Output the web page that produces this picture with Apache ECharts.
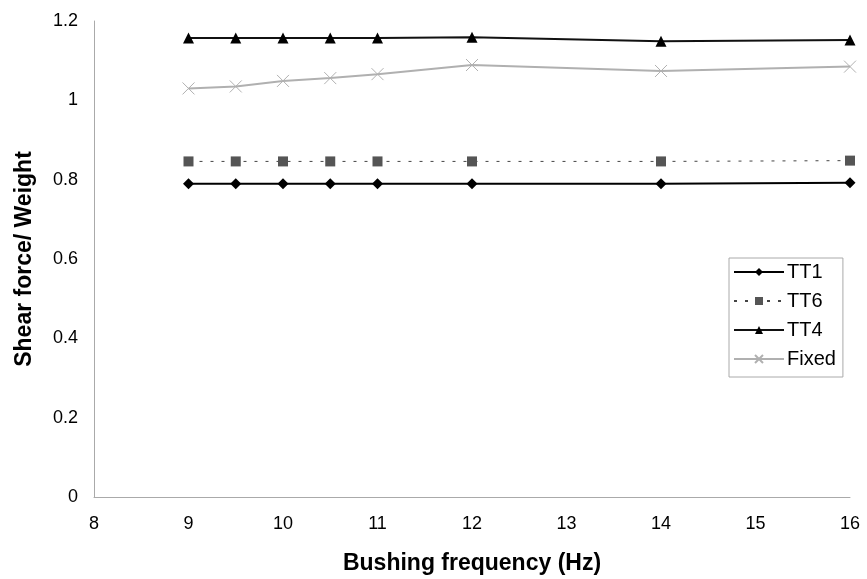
<!DOCTYPE html>
<html>
<head>
<meta charset="utf-8">
<script src="https://cdn.jsdelivr.net/npm/echarts@6/dist/echarts.min.js"></script>
<style>
  html, body { margin: 0; padding: 0; background: #fff; }
  #main { width: 867px; height: 579px; }
</style>
</head>
<body>
<div id="main"></div>
<script>
// bushing frequency (Hz)
const freqs = [9, 9.5, 10, 10.5, 11, 12, 14, 16];
const tt1 = [0.790, 0.790, 0.790, 0.790, 0.790, 0.790, 0.790, 0.792];
const tt6 = [0.846, 0.846, 0.846, 0.846, 0.846, 0.846, 0.846, 0.848];
const tt4 = [1.157, 1.157, 1.157, 1.157, 1.157, 1.159, 1.149, 1.152];
const fixed = [1.030, 1.035, 1.049, 1.056, 1.066, 1.089, 1.074, 1.085];

const pairs = vals => freqs.map((f, i) => [f, vals[i]]);

const myChart = echarts.init(document.getElementById('main'));

const font = 'Liberation Sans, Arial, sans-serif';

const option = {
  animation: false,
  grid: { left: 94, right: 17, top: 21, bottom: 82, outerBoundsMode: 'none' },
  legend: {
    orient: 'vertical',
    left: 729,
    top: 258,
    width: 114,
    padding: [4, 7, 8, 4],
    itemWidth: 50,
    itemHeight: 10,
    itemGap: 9,
    borderColor: '#aaa',
    borderWidth: 1,
    textStyle: { fontFamily: font, fontSize: 20, lineHeight: 20, color: '#000', padding: [0, 0, 0, -2] },
    data: ['TT1', 'TT6', 'TT4', 'Fixed']
  },
  xAxis: {
    type: 'value',
    min: 8, max: 16, interval: 1,
    name: 'Bushing frequency (Hz)',
    nameLocation: 'middle',
    nameGap: 55,
    nameTextStyle: { fontFamily: font, fontSize: 23, fontWeight: 'bold', color: '#000' },
    axisLine: { lineStyle: { color: '#aaa', width: 1 } },
    axisTick: { show: false },
    splitLine: { show: false },
    axisLabel: { fontFamily: font, fontSize: 18, color: '#000', margin: 18 }
  },
  yAxis: {
    type: 'value',
    min: 0, max: 1.2, interval: 0.2,
    name: 'Shear force/ Weight',
    nameLocation: 'middle',
    nameGap: 58,
    nameTextStyle: { fontFamily: font, fontSize: 23, fontWeight: 'bold', color: '#000' },
    axisLine: { show: true, lineStyle: { color: '#aaa', width: 1 } },
    axisTick: { show: false },
    splitLine: { show: false },
    axisLabel: { fontFamily: font, fontSize: 18, color: '#000', margin: 16 }
  },
  series: [
    {
      name: 'TT1', type: 'line', data: pairs(tt1),
      symbol: 'diamond', symbolSize: 11,
      lineStyle: { color: '#000', width: 2 },
      itemStyle: { color: '#000' }
    },
    {
      name: 'TT6', type: 'line', data: pairs(tt6),
      symbol: 'rect', symbolSize: 10,
      lineStyle: { color: '#444', width: 1, type: [3, 8] },
      itemStyle: { color: '#555' }
    },
    {
      name: 'TT4', type: 'line', data: pairs(tt4),
      symbol: 'triangle', symbolSize: 11,
      lineStyle: { color: '#111', width: 2 },
      itemStyle: { color: '#000' }
    },
    {
      name: 'Fixed', type: 'line', data: pairs(fixed),
      symbol: 'path://M0,0L10,10M10,0L0,10', symbolSize: 12,
      lineStyle: { color: '#b0b0b0', width: 2 },
      itemStyle: { color: 'rgba(0,0,0,0)', borderColor: '#b0b0b0', borderWidth: 1 }
    }
  ]
};

myChart.setOption(option);
</script>
</body>
</html>
